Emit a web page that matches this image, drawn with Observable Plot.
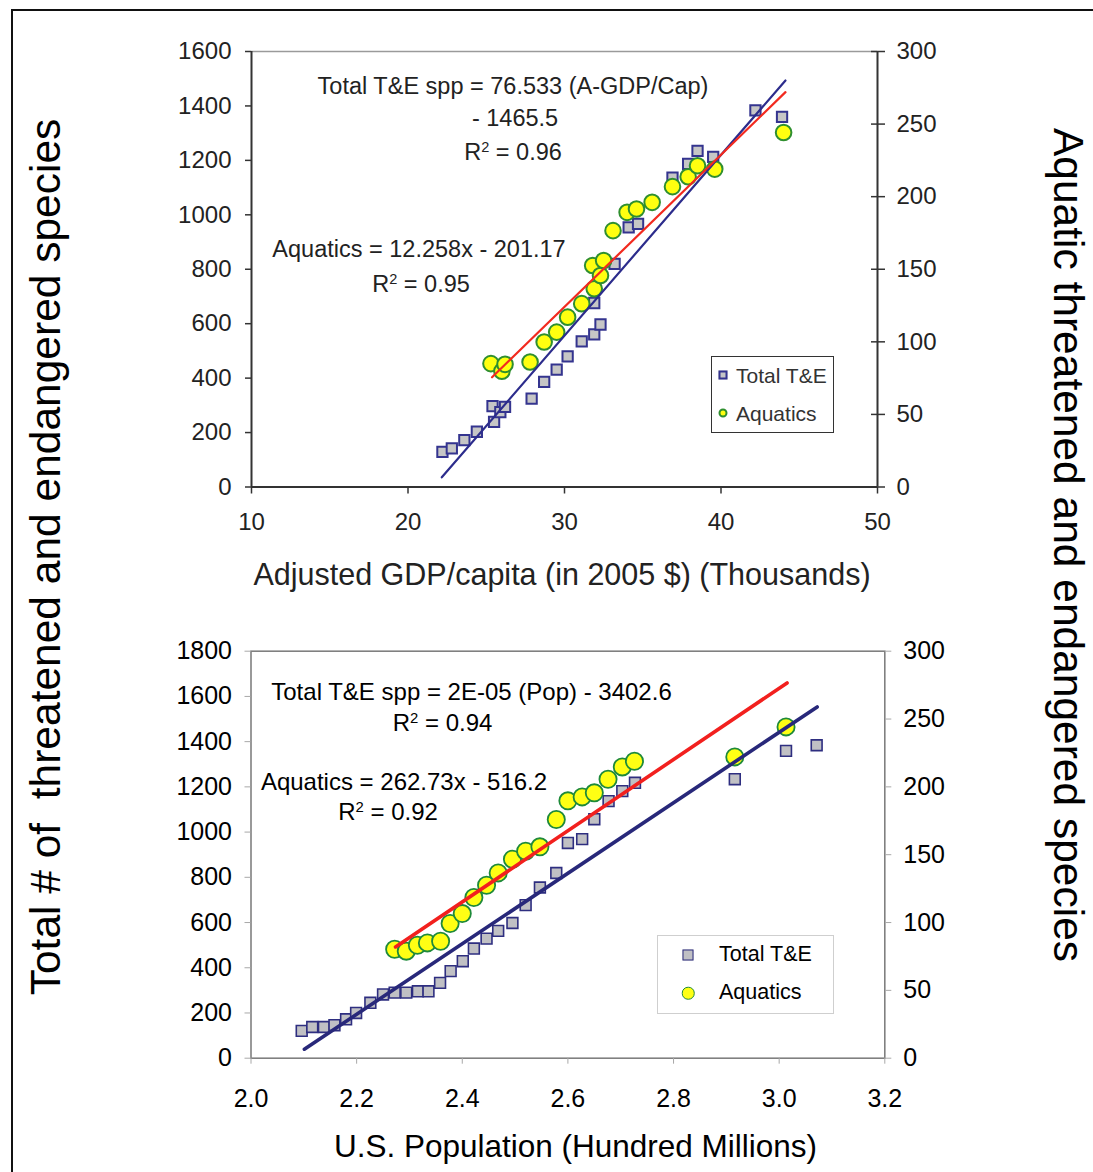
<!DOCTYPE html>
<html>
<head>
<meta charset="utf-8">
<script src="https://cdn.jsdelivr.net/npm/d3@7"></script>
<script src="https://cdn.jsdelivr.net/npm/@observablehq/plot@0.6"></script>
<style>
  body { margin: 0; background: #fff; font-family: "Liberation Sans", Arial, sans-serif; }
  #page { position: relative; width: 1093px; height: 1172px; overflow: hidden; background: #fff; }
  .abs { position: absolute; white-space: nowrap; line-height: 1; }
  .plot { position: absolute; left: 0; }
  .leg { position: absolute; box-sizing: border-box; background: #fff; }
  .mk { position: absolute; box-sizing: border-box; transform: translate(-50%, -50%); }
  .lt { position: absolute; white-space: nowrap; line-height: 1; transform: translateY(-50%); }
  sup { font-size: 0.62em; vertical-align: 0; position: relative; top: -0.55em; }
</style>
</head>
<body>
<div id="page"></div>
<script>
// ---------- Top panel: Adjusted GDP/capita (thousands of 2005 $) ----------
const gdpTotalX = [22.2, 22.8, 23.6, 24.4, 25.4, 25.5, 25.9, 26.2, 27.9, 28.7, 29.5, 30.2, 31.1, 31.9, 31.9, 32.3, 33.2, 34.1, 34.7, 36.9, 37.9, 38.5, 39.5, 42.2, 43.9];
const gdpTotalY = [129, 142, 172, 203, 297, 239, 275, 294, 325, 386, 431, 480, 535, 561, 676, 597, 820, 954, 967, 1137, 1187, 1235, 1213, 1384, 1360];
const gdpAquaX = [25.3, 26.0, 26.2, 27.8, 28.7, 29.5, 30.2, 31.1, 31.9, 31.8, 32.3, 32.5, 33.1, 34.0, 34.6, 35.6, 36.9, 37.9, 38.5, 39.6, 44.0];
const gdpAquaY = [85, 79.7, 84.5, 86.1, 99.9, 106.7, 117, 126.3, 136.6, 152.6, 145.7, 156, 176.6, 189.2, 191.5, 196.1, 206.9, 213.7, 221.3, 219, 244.2];
// trend line end points as drawn
const gdpTrendTotalX = [22.16, 44.12];
const gdpTrendTotalY = [35.6, 1493.5];
const gdpTrendAquaX = [25.37, 44.12];
const gdpTrendAquaY = [75.6, 272];
const gdpXTicks = [10, 20, 30, 40, 50];
const gdpLeftTicks = [0, 200, 400, 600, 800, 1000, 1200, 1400, 1600];
const gdpRightTicks = [0, 50, 100, 150, 200, 250, 300];

// ---------- Bottom panel: U.S. population (hundred millions) ----------
const popTotalX = [2.096, 2.116, 2.138, 2.158, 2.180, 2.199, 2.226, 2.250, 2.272, 2.294, 2.316, 2.336, 2.358, 2.378, 2.401, 2.422, 2.446, 2.468, 2.495, 2.520, 2.547, 2.578, 2.600, 2.627, 2.650, 2.677, 2.703, 2.727, 2.916, 3.013, 3.071];
const popTotalY = [121, 138, 138, 146, 172, 200, 245, 282, 290, 290, 296, 296, 333, 385, 429, 485, 529, 563, 598, 677, 755, 819, 952, 969, 1057, 1137, 1181, 1218, 1234, 1359, 1384];
const popAquaX = [2.272, 2.294, 2.315, 2.334, 2.359, 2.377, 2.400, 2.422, 2.446, 2.468, 2.495, 2.520, 2.547, 2.578, 2.600, 2.627, 2.650, 2.676, 2.703, 2.726, 2.916, 3.013];
const popAquaY = [80.3, 78.9, 83.3, 85, 86.2, 99.3, 106.6, 118.5, 127.5, 136.6, 146.7, 152.6, 155.8, 175.9, 189.7, 192.6, 195.6, 205.6, 214.7, 218.9, 222.1, 244.2];
const popTrendTotalX = [2.101, 3.072];
const popTrendTotalY = [39.8, 1553.7];
const popTrendAquaX = [2.2736, 3.015];
const popTrendAquaY = [82.0, 276.6];
const popXTicks = [2.0, 2.2, 2.4, 2.6, 2.8, 3.0, 3.2];
const popLeftTicks = [0, 200, 400, 600, 800, 1000, 1200, 1400, 1600, 1800];
const popRightTicks = [0, 50, 100, 150, 200, 250, 300];

const seriesNames = ["Total T&E", "Aquatics"];

// ---------- helpers ----------
const zipXY = (xs, ys) => xs.map((x, i) => ({x, y: ys[i]}));
const page = document.getElementById("page");
const FONT = '"Liberation Sans", Arial, sans-serif';
const blank = () => "";
const plain = d => String(d);

function addText(html, cx, cy, size, opts = {}) {
  const d = document.createElement("div");
  d.className = "abs";
  d.innerHTML = html;
  d.style.left = cx + "px";
  d.style.top = cy + "px";
  d.style.fontSize = size + "px";
  d.style.color = opts.color || "#111";
  d.style.transform = "translate(-50%,-50%)" + (opts.rotate ? ` rotate(${opts.rotate}deg)` : "");
  page.appendChild(d);
  return d;
}

function addLegend(box, items) {
  const L = document.createElement("div");
  L.className = "leg";
  Object.assign(L.style, {
    left: box.left + "px", top: box.top + "px", width: box.width + "px", height: box.height + "px",
    border: box.border
  });
  items.forEach(it => {
    const m = document.createElement("div");
    m.className = "mk";
    Object.assign(m.style, {
      left: box.markerX + "px", top: it.y + "px", width: it.size + "px", height: it.size + "px",
      background: it.fill, border: it.border, borderRadius: it.round ? "50%" : "0"
    });
    L.appendChild(m);
    const t = document.createElement("div");
    t.className = "lt";
    t.textContent = it.label;
    Object.assign(t.style, {left: box.textX + "px", top: it.y + "px", fontSize: box.fontSize + "px", color: box.color});
    L.appendChild(t);
  });
  page.appendChild(L);
}

// ---------- Top chart ----------
{
  const kR = gdpLeftTicks[gdpLeftTicks.length - 1] / gdpRightTicks[gdpRightTicks.length - 1];
  const W = 1093, H = 600;
  const total = zipXY(gdpTotalX, gdpTotalY);
  const aqua = zipXY(gdpAquaX, gdpAquaY).map(d => ({x: d.x, y: d.y * kR}));
  const tTot = zipXY(gdpTrendTotalX, gdpTrendTotalY);
  const tAq = zipXY(gdpTrendAquaX, gdpTrendAquaY).map(d => ({x: d.x, y: d.y * kR}));
  const xd = [gdpXTicks[0], gdpXTicks[gdpXTicks.length - 1]];
  const yd = [gdpLeftTicks[0], gdpLeftTicks[gdpLeftTicks.length - 1]];
  const rTicks = gdpRightTicks.map(v => v * kR);
  const axisCol = "#333";
  const svg = Plot.plot({
    width: W, height: H,
    marginLeft: 251, marginRight: 216, marginTop: 51, marginBottom: 113.5,
    style: {fontFamily: FONT, fontSize: "24px", color: "#222", background: "#fff", overflow: "visible"},
    x: {domain: xd, axis: null},
    y: {domain: yd, axis: null},
    marks: [
      Plot.ruleY([yd[1]], {stroke: "#9a9a9a", strokeWidth: 1.5}),
      Plot.dot(total, {x: "x", y: "y", symbol: "square", r: 5.8, fill: "#c6c6c6", stroke: "#34348f", strokeWidth: 2}),
      Plot.dot(aqua, {x: "x", y: "y", r: 7.8, fill: "#ffff10", stroke: "#2f8f2f", strokeWidth: 2}),
      Plot.line(tTot, {x: "x", y: "y", stroke: "#2c2c8c", strokeWidth: 2.2}),
      Plot.line(tAq, {x: "x", y: "y", stroke: "#f22a1f", strokeWidth: 2.2}),
      Plot.ruleX([xd[0]], {stroke: axisCol, strokeWidth: 2}),
      Plot.ruleX([xd[1]], {stroke: axisCol, strokeWidth: 2}),
      Plot.ruleY([yd[0]], {stroke: axisCol, strokeWidth: 2}),
      // left axis
      Plot.axisY(gdpLeftTicks, {anchor: "left", tickSize: 6, tickFormat: blank, stroke: axisCol, strokeWidth: 1.5, label: null}),
      Plot.axisY(gdpLeftTicks, {anchor: "left", tickSize: 0, tickPadding: 20, fill: "#222", tickFormat: plain, label: null}),
      // right axis (ticks cross the axis line)
      Plot.axisY(rTicks, {anchor: "right", tickSize: 14, dx: -7, tickFormat: blank, stroke: axisCol, strokeWidth: 1.5, label: null}),
      Plot.axisY(rTicks, {anchor: "right", tickSize: 0, tickPadding: 19, fill: "#222", tickFormat: v => String(Math.round(v / kR)), label: null}),
      // bottom axis
      Plot.axisX(gdpXTicks, {anchor: "bottom", tickSize: 7, tickFormat: blank, stroke: axisCol, strokeWidth: 1.5, label: null}),
      Plot.axisX(gdpXTicks, {anchor: "bottom", tickSize: 0, tickPadding: 26, fill: "#222", tickFormat: plain, label: null})
    ]
  });
  svg.classList.add("plot");
  svg.style.top = "0px";
  page.appendChild(svg);

  addText("Total T&amp;E spp = 76.533 (A-GDP/Cap)", 513, 87, 23.5, {color: "#222"});
  addText("- 1465.5", 515, 119, 23.5, {color: "#222"});
  addText("R<sup>2</sup> = 0.96", 513, 153, 23.5, {color: "#222"});
  addText("Aquatics = 12.258x - 201.17", 419, 250, 23.5, {color: "#222"});
  addText("R<sup>2</sup> = 0.95", 421, 285, 23.5, {color: "#222"});
  addText("Adjusted GDP/capita (in 2005 $) (Thousands)", 562, 574, 30.5, {color: "#222"});

  addLegend({left: 711, top: 356, width: 123, height: 77, border: "1.5px solid #333", markerX: 11, textX: 24, fontSize: 21, color: "#333"}, [
    {label: seriesNames[0], y: 18, size: 9, fill: "#c6c6c6", border: "2px solid #34348f"},
    {label: seriesNames[1], y: 56, size: 9, fill: "#ffff10", border: "2px solid #2f8f2f", round: true}
  ]);
}

// ---------- Bottom chart ----------
{
  const kR = popLeftTicks[popLeftTicks.length - 1] / popRightTicks[popRightTicks.length - 1];
  const W = 1093, H = 572, top = 600;
  const total = zipXY(popTotalX, popTotalY);
  const aqua = zipXY(popAquaX, popAquaY).map(d => ({x: d.x, y: d.y * kR}));
  const tTot = zipXY(popTrendTotalX, popTrendTotalY);
  const tAq = zipXY(popTrendAquaX, popTrendAquaY).map(d => ({x: d.x, y: d.y * kR}));
  const xd = [popXTicks[0], popXTicks[popXTicks.length - 1]];
  const yd = [popLeftTicks[0], popLeftTicks[popLeftTicks.length - 1]];
  const rTicks = popRightTicks.map(v => v * kR);
  const tickCol = "#a8a8a8";
  const svg = Plot.plot({
    width: W, height: H,
    marginLeft: 250.5, marginRight: 208.7, marginTop: 50.7, marginBottom: 114.3,
    style: {fontFamily: FONT, fontSize: "25px", color: "#000", background: "transparent", overflow: "visible"},
    x: {domain: xd, axis: null},
    y: {domain: yd, axis: null},
    marks: [
      Plot.dot(total, {x: "x", y: "y", symbol: "square", r: 6.1, fill: "#c0c0c4", stroke: "#2e2e80", strokeWidth: 1.6}),
      Plot.dot(aqua, {x: "x", y: "y", r: 8.6, fill: "#ffff14", stroke: "#1e8a3a", strokeWidth: 1.8}),
      Plot.line(tTot, {x: "x", y: "y", stroke: "#28287a", strokeWidth: 3.6}),
      Plot.line(tAq, {x: "x", y: "y", stroke: "#f2201e", strokeWidth: 3.6}),
      Plot.frame({stroke: "#808080", strokeWidth: 1.6}),
      Plot.axisY(popLeftTicks, {anchor: "left", tickSize: 6, tickFormat: blank, stroke: tickCol, label: null}),
      Plot.axisY(popLeftTicks, {anchor: "left", tickSize: 0, tickPadding: 19, fill: "#000", tickFormat: plain, label: null}),
      Plot.axisY(rTicks, {anchor: "right", tickSize: 6, tickFormat: blank, stroke: tickCol, label: null}),
      Plot.axisY(rTicks, {anchor: "right", tickSize: 0, tickPadding: 18.5, fill: "#000", tickFormat: v => String(Math.round(v / kR)), label: null}),
      Plot.axisX(popXTicks, {anchor: "bottom", tickSize: 6, tickFormat: blank, stroke: tickCol, label: null}),
      Plot.axisX(popXTicks, {anchor: "bottom", tickSize: 0, tickPadding: 31, fill: "#000", tickFormat: d3.format(".1f"), label: null})
    ]
  });
  svg.classList.add("plot");
  svg.style.top = top + "px";
  page.appendChild(svg);

  addText("Total T&amp;E spp = 2E-05 (Pop) - 3402.6", 471.5, 692, 24, {color: "#000"});
  addText("R<sup>2</sup> = 0.94", 442.5, 723, 24, {color: "#000"});
  addText("Aquatics = 262.73x - 516.2", 404, 782, 24, {color: "#000"});
  addText("R<sup>2</sup> = 0.92", 388, 812, 24, {color: "#000"});
  addText("U.S. Population (Hundred Millions)", 575.5, 1147, 31.5, {color: "#000"});

  addLegend({left: 657, top: 935, width: 177, height: 79, border: "1px solid #cfcfcf", markerX: 30, textX: 61, fontSize: 21.5, color: "#000"}, [
    {label: seriesNames[0], y: 18.5, size: 11, fill: "#c0c0c4", border: "1.6px solid #2e2e80"},
    {label: seriesNames[1], y: 57, size: 12.5, fill: "#ffff14", border: "1.8px solid #1e8a3a", round: true}
  ]);
}

// ---------- Shared side titles and outer border ----------
addText("Total # of&nbsp; threatened and endangered species", 46, 557, 42.5, {rotate: -90, color: "#000"});
addText("Aquatic threatened and endangered species", 1068, 545, 42.5, {rotate: 90, color: "#000"});

const border = document.createElement("div");
Object.assign(border.style, {
  position: "absolute", left: "11px", top: "8.5px", width: "2000px", height: "2000px",
  borderLeft: "2.6px solid #111", borderTop: "2.6px solid #111", pointerEvents: "none"
});
page.appendChild(border);
</script>
</body>
</html>
